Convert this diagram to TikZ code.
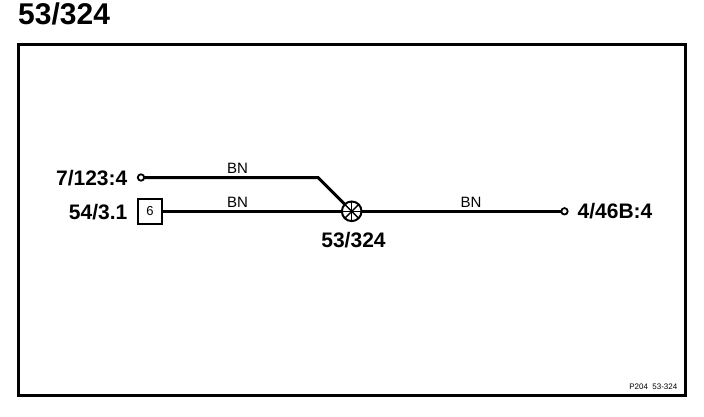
\documentclass[tikz,border=0pt]{standalone}
\usepackage{fontspec}
\setmainfont{Liberation Sans}
\newcommand{\fsz}[1]{\fontsize{#1}{#1}\selectfont}
\tikzset{
  wire/.style={line width=3pt,black},
  term/.style={circle,draw=black,line width=1.8pt,fill=white,minimum size=6.4pt,inner sep=0pt,outer sep=0pt},
  lab/.style={inner sep=0pt,font=\fsz{21}\bfseries,text=black},
  wirelab/.style={inner sep=0pt,font=\fsz{15},text=black},
  conn/.style={draw=black,line width=2pt,fill=white,minimum width=24.5pt,minimum height=25pt,inner sep=0pt,font=\fsz{13}},
  splice/.style={circle,draw=black,line width=2pt,fill=white,minimum size=19.6pt,inner sep=0pt,outer sep=0pt}
}
\begin{document}
\begin{tikzpicture}[x=1pt,y=-1pt]
\useasboundingbox (0,0) rectangle (704,416);
\fill[white] (0,0) rectangle (704,416);
\draw[black,line width=3.4pt] (18.5,44.3) rectangle (685.3,395.3);
\node[anchor=base west,inner sep=0pt,font=\fsz{30}\bfseries] (title) at (18,24) {53/324};
\node[term] (t1) at (141,177.5) {};
\node[conn] (c6) at (150,211.3) {6};
\node[splice] (sp) at (351.7,211.3) {};
\node[term] (t2) at (564.5,211.3) {};
\coordinate (bend) at (318,177.5);
\draw[wire,shorten <=-0.8pt] (t1) -- (bend) -- (sp);
\draw[wire] (c6) -- (sp);
\draw[wire,shorten >=-0.8pt] (sp) -- (t2);
\foreach \a in {0,45,90,135}{
  \draw[black,line width=1.4pt] (sp.\a) -- (sp.\a+180);
}
\node[lab,anchor=base east] (l1) at (127.5,185) {7/123:4};
\node[lab,anchor=base east] (l2) at (127.5,219) {54/3.1};
\node[lab,anchor=base west] (l3) at (577.5,218) {4/46B:4};
\node[lab,anchor=base] (l4) at (353.5,247) {53/324};
\node[wirelab,anchor=base] (b1) at (237.5,173) {BN};
\node[wirelab,anchor=base] (b2) at (237.5,207) {BN};
\node[wirelab,anchor=base] (b3) at (471,207) {BN};
\node[anchor=base east,inner sep=0pt,font=\fsz{8}] (ref) at (677.5,389.5) {P204\ \ 53-324};
\end{tikzpicture}
\end{document}
